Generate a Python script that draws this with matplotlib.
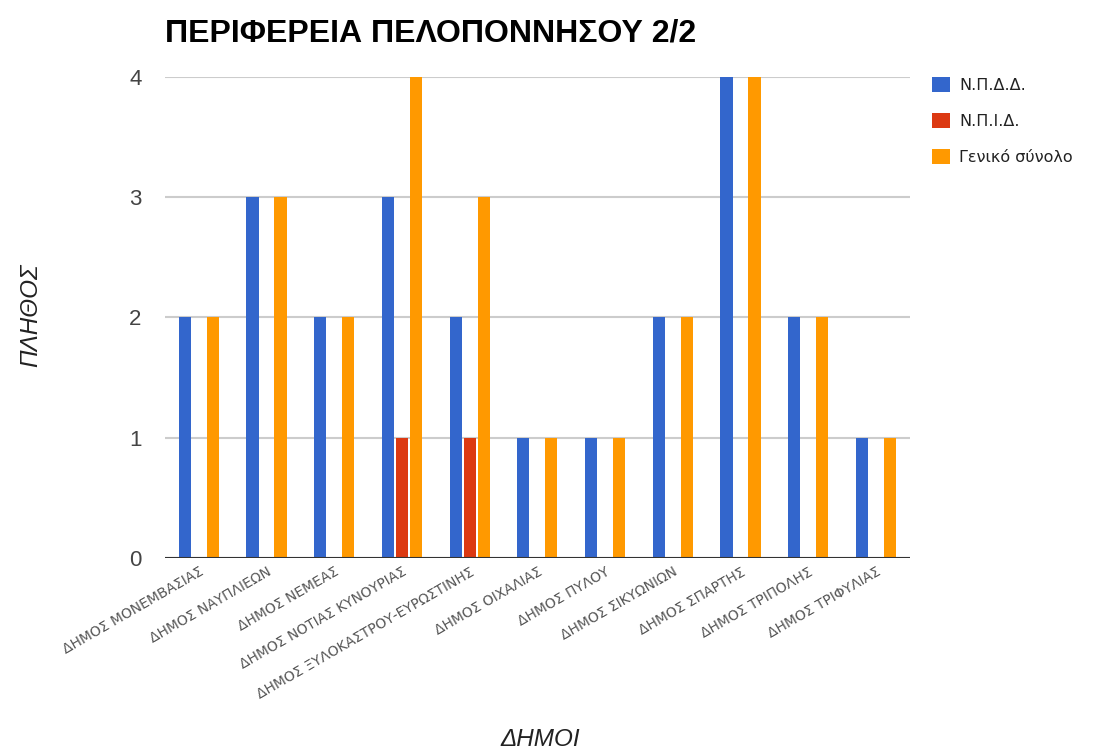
import matplotlib.pyplot as plt
import numpy as np

plt.rcParams['font.family'] = ['Liberation Sans', 'DejaVu Sans']

dimoi = ["ΔΗΜΟΣ ΜΟΝΕΜΒΑΣΙΑΣ", "ΔΗΜΟΣ ΝΑΥΠΛΙΕΩΝ", "ΔΗΜΟΣ ΝΕΜΕΑΣ",
         "ΔΗΜΟΣ ΝΟΤΙΑΣ ΚΥΝΟΥΡΙΑΣ", "ΔΗΜΟΣ ΞΥΛΟΚΑΣΤΡΟΥ-ΕΥΡΩΣΤΙΝΗΣ",
         "ΔΗΜΟΣ ΟΙΧΑΛΙΑΣ", "ΔΗΜΟΣ ΠΥΛΟΥ", "ΔΗΜΟΣ ΣΙΚΥΩΝΙΩΝ",
         "ΔΗΜΟΣ ΣΠΑΡΤΗΣ", "ΔΗΜΟΣ ΤΡΙΠΟΛΗΣ", "ΔΗΜΟΣ ΤΡΙΦΥΛΙΑΣ"]
npdd = [2, 3, 2, 3, 2, 1, 1, 2, 4, 2, 1]
npid = [0, 0, 0, 1, 1, 0, 0, 0, 0, 0, 0]
synolo = [2, 3, 2, 4, 3, 1, 1, 2, 4, 2, 1]

x = np.arange(len(dimoi))
w = 0.18
off = 0.207

fig = plt.figure(figsize=(11, 7.54), dpi=100, facecolor="white")
ax = fig.add_axes([0.15, 0.26, 0.677, 0.638])

ax.bar(x - off, npdd, w, color="#3366cc", label="Ν.Π.Δ.Δ.", zorder=3)
ax.bar(x, npid, w, color="#dc3912", label="Ν.Π.Ι.Δ.", zorder=3)
ax.bar(x + off, synolo, w, color="#ff9900", label="Γενικό σύνολο", zorder=3)

ax.set_xlim(-0.5, len(dimoi) - 0.5)
ax.set_ylim(0, 4)
ax.set_yticks([0, 1, 2, 3, 4])
ax.yaxis.grid(True, color="#cccccc", linewidth=1.5, zorder=0)
ax.axhline(0, color="#333333", linewidth=1.5, zorder=4)
for s in ax.spines.values():
    s.set_visible(False)
ax.tick_params(axis='y', length=0, pad=17, labelsize=16, labelcolor="#444444")
ax.tick_params(axis='x', length=0, pad=5)
ax.set_xticks(x)
ax.set_xticklabels(dimoi, rotation=30, ha='right', rotation_mode='anchor',
                   fontsize=10, color="#555555", family='DejaVu Sans')

fig.text(0.15, 0.955, "ΠΕΡΙΦΕΡΕΙΑ ΠΕΛΟΠΟΝΝΗΣΟΥ 2/2", fontsize=23,
         fontweight='bold', ha='left', va='center', color="black")
fig.text(0.028, 0.582, "ΠΛΗΘΟΣ", rotation=90, style='italic', fontsize=17.5,
         ha='center', va='center', color="#222222")
fig.text(0.491, 0.019, "ΔΗΜΟΙ", style='italic', fontsize=17.5,
         ha='center', va='center', color="#222222")

fig.legend(loc='upper left', bbox_to_anchor=(932 / 1100, 1 - 77 / 754),
           frameon=False, borderaxespad=0, borderpad=0,
           prop={'family': 'DejaVu Sans', 'size': 11.5},
           handlelength=1.1, handleheight=1.1, labelspacing=1.25,
           handletextpad=0.6, labelcolor="#222222")

plt.savefig("out.png", dpi=100, facecolor="white")
